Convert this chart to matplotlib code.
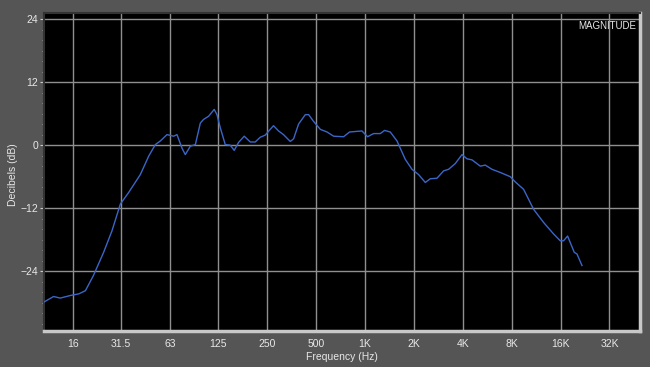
import numpy as np
import matplotlib
matplotlib.use("Agg")
import matplotlib.pyplot as plt
from matplotlib.ticker import FixedLocator, MultipleLocator, NullLocator

plt.rcParams['font.family'] = ['Liberation Sans', 'DejaVu Sans']

freq_hz = [10.5, 12.1, 13.3, 15.4, 17.3, 19.0, 21.3, 24.6, 27.7, 31.2, 35.1, 41.4,
           46.6, 51.2, 55.0, 60.4, 66.4, 69.6, 74.8, 78.3, 84.1, 90.3, 96.9, 101.5,
           109, 118, 122.7, 128.6, 138, 148, 156.7, 166.5, 180.5, 196.7, 211, 226.5,
           243, 261, 273.5, 293.6, 315, 346.8, 363.5, 390, 429, 450, 483, 531, 584,
           641, 738, 804, 958, 1037, 1130, 1242, 1320, 1431, 1574, 1770, 1947, 2138,
           2351, 2523, 2774, 3047, 3271, 3597, 3956, 4245, 4557, 5127, 5503, 6050,
           6807, 7842, 8420, 9470, 10910, 12570, 14490, 15930, 16690, 17670, 19430,
           20180, 21670]
magnitude_db = [-29.9, -28.8, -29.1, -28.6, -28.3, -27.7, -24.8, -20.4, -16.3, -11.2,
                -9.0, -5.6, -2.1, 0.1, 0.8, 2.0, 1.7, 2.0, -0.6, -1.8, -0.2, 0.1, 4.2,
                4.9, 5.5, 6.8, 5.8, 3.3, 0.1, 0.0, -1.0, 0.5, 1.7, 0.6, 0.6, 1.5, 1.9,
                3.0, 3.7, 2.7, 2.0, 0.7, 1.2, 4.0, 5.8, 5.8, 4.5, 3.0, 2.5, 1.7, 1.6,
                2.5, 2.7, 1.6, 2.2, 2.2, 2.8, 2.5, 0.8, -2.7, -4.6, -5.6, -7.1, -6.4,
                -6.3, -4.9, -4.6, -3.5, -1.8, -2.6, -2.8, -4.0, -3.8, -4.6, -5.2, -6.0,
                -7.0, -8.4, -12.2, -14.7, -16.9, -18.2, -18.2, -17.3, -20.4, -20.7, -22.9]

x_ticks = [16, 31.5, 63, 125, 250, 500, 1000, 2000, 4000, 8000, 16000, 32000]
x_labels = ["16", "31.5", "63", "125", "250", "500", "1K", "2K", "4K", "8K", "16K", "32K"]
y_ticks = [24, 12, 0, -12, -24]

fig = plt.figure(figsize=(6.5, 3.67), dpi=100, facecolor='#555555')
ax = fig.add_axes([0.067, 0.099, 0.918, 0.865])
ax.set_facecolor('black')

ax.plot(freq_hz, magnitude_db, color='#3a66c8', linewidth=1.0, zorder=3)

ax.set_xscale('log')
ax.set_xlim(10.5, 49500)
ax.set_ylim(-35.3, 25.1)

ax.xaxis.set_major_locator(FixedLocator(x_ticks))
ax.xaxis.set_minor_locator(NullLocator())
ax.set_xticklabels(x_labels)
ax.yaxis.set_major_locator(FixedLocator(y_ticks))
ax.yaxis.set_minor_locator(MultipleLocator(2))

ax.grid(True, which='major', color='#8f8f8f', linewidth=1.0, zorder=1)
ax.tick_params(axis='x', which='both', length=0, colors='#e8e8e8', labelsize=7.5, pad=6)
ax.tick_params(axis='y', which='major', length=3, color='#cccccc', labelcolor='#e8e8e8',
               labelsize=7.5, pad=1)
ax.tick_params(axis='y', which='minor', length=1.5, color='#bbbbbb')

for side in ['left', 'top']:
    ax.spines[side].set_color('#333333')
    ax.spines[side].set_linewidth(1.5)
for side in ['bottom', 'right']:
    ax.spines[side].set_color('#c8c8c8')
    ax.spines[side].set_linewidth(2.5)

ax.set_xlabel('Frequency (Hz)', color='#e8e8e8', fontsize=7.5, labelpad=2)
ax.set_ylabel('Decibels (dB)', color='#e8e8e8', fontsize=7.5)
ax.yaxis.set_label_coords(-0.043, 0.49)

ax.text(0.993, 0.975, 'MAGNITUDE', transform=ax.transAxes, ha='right', va='top',
        color='#e8e8e8', fontsize=7, zorder=4)

fig.savefig('out.png', dpi=100, facecolor=fig.get_facecolor())
